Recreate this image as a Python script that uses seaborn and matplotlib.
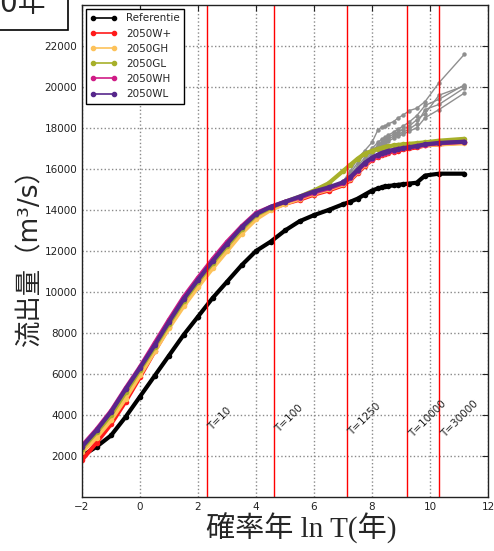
import numpy as np
import pandas as pd
import matplotlib
matplotlib.use('Agg')
import matplotlib.pyplot as plt
import seaborn as sns
from matplotlib.lines import Line2D
from matplotlib.patches import Rectangle

# ln T (plotting positions)
x = [-2.0, -1.5, -1.0, -0.5, 0.0, 0.5, 1.0, 1.5, 2.0, 2.5, 3.0, 3.5, 4.0, 4.5,
     5.0, 5.5, 6.0, 6.5, 7.0, 7.25, 7.5, 7.75, 8.0, 8.2, 8.33, 8.45, 8.56,
     8.74, 8.91, 9.08, 9.29, 9.54, 9.83, 10.31, 11.18]

# 流出量 (m3/s)
ref = [2000, 2450, 3000, 3900, 4900, 5900, 6900, 7900, 8800, 9700, 10500, 11300,
       12000, 12450, 13000, 13450, 13750, 14000, 14280, 14400, 14550, 14750, 14950,
       15050, 15100, 15150, 15170, 15200, 15230, 15260, 15290, 15330, 15680, 15770, 15770]
w_plus = [1800, 2650, 3550, 4650, 5850, 7100, 8300, 9400, 10350, 11300, 12200, 13000,
          13650, 14050, 14300, 14500, 14750, 14950, 15200, 15450, 15800, 16150, 16450,
          16600, 16700, 16750, 16800, 16850, 16900, 16950, 17000, 17050, 17150, 17200, 17300]
gh = [2200, 2900, 3750, 4800, 5950, 7100, 8250, 9300, 10250, 11150, 12000, 12850,
      13550, 14000, 14300, 14550, 14800, 15000, 15250, 15500, 15850, 16200, 16500,
      16650, 16750, 16800, 16850, 16900, 16950, 17000, 17050, 17100, 17150, 17200, 17250]
gl = [2350, 3150, 4000, 5100, 6200, 7300, 8450, 9550, 10500, 11400, 12250, 13050,
      13750, 14100, 14400, 14650, 14950, 15300, 15900, 16200, 16500, 16750, 16880,
      16980, 17030, 17080, 17100, 17150, 17180, 17200, 17230, 17260, 17300, 17380, 17470]
wh = [2500, 3300, 4200, 5300, 6350, 7500, 8650, 9750, 10700, 11600, 12450, 13200,
      13850, 14150, 14400, 14600, 14850, 15050, 15300, 15550, 15900, 16250, 16500,
      16650, 16750, 16800, 16850, 16900, 16950, 17000, 17050, 17100, 17180, 17250, 17320]
wl = [2450, 3250, 4150, 5250, 6300, 7400, 8550, 9650, 10600, 11500, 12350, 13150,
      13800, 14150, 14400, 14650, 14900, 15100, 15350, 15600, 15950, 16300, 16550,
      16700, 16780, 16830, 16880, 16930, 16980, 17020, 17060, 17120, 17200, 17270, 17330]

series_names = ['Referentie', '2050W+', '2050GH', '2050GL', '2050WH', '2050WL']
series_values = [ref, w_plus, gh, gl, wh, wl]
colors = ['black', '#ff1a1a', '#fdc25a', '#a7b02a', '#d01c86', '#57278c']

# grey upper members, from ln T = 7.0
x_tail = x[18:]
gray_runs = [
    [15400, 15900, 16500, 16900, 17300, 17900, 18050, 18100, 18200, 18310, 18500, 18640, 18850, 18960, 19290, 20210, 21590],
    [15400, 15800, 16300, 16700, 17000, 17300, 17450, 17550, 17650, 17800, 17950, 18100, 18300, 18600, 19100, 19400, 20100],
    [15350, 15700, 16150, 16550, 16900, 17150, 17300, 17450, 17550, 17700, 17800, 17950, 18100, 18400, 18700, 19600, 20050],
    [15300, 15650, 16050, 16450, 16800, 17050, 17200, 17350, 17450, 17600, 17700, 17800, 17950, 18200, 18900, 19150, 19950],
    [15300, 15600, 16000, 16350, 16700, 16950, 17100, 17250, 17350, 17500, 17600, 17700, 17850, 18000, 18500, 18900, 19700],
]

return_periods = [10, 100, 1250, 10000, 30000]

df = pd.DataFrame({
    'lnT': x * len(series_names),
    'Q': sum(series_values, []),
    'series': [n for n in series_names for _ in x],
})
df_gray = pd.DataFrame({
    'lnT': x_tail * len(gray_runs),
    'Q': sum(gray_runs, []),
    'run': [i for i in range(len(gray_runs)) for _ in x_tail],
})

sns.set_style('white')
plt.rcParams['font.family'] = ['DejaVu Sans', 'Noto Sans CJK JP']

fig = plt.figure(figsize=(4.94, 5.51), dpi=100)
ax = fig.add_axes([0.166, 0.098, 0.822, 0.893])

sns.lineplot(data=df_gray, x='lnT', y='Q', units='run', estimator=None, sort=False,
             color='#8f8f8f', linewidth=1, marker='o', markersize=3.2,
             markeredgewidth=0, legend=False, ax=ax)
sns.lineplot(data=df, x='lnT', y='Q', hue='series', hue_order=series_names,
             palette=dict(zip(series_names, colors)), estimator=None, sort=False,
             linewidth=3, marker='o', markersize=4, markeredgewidth=0,
             legend=False, ax=ax)

for T in return_periods:
    ax.axvline(np.log(T), color='red', lw=1)
    ax.text(np.log(T), 3800, f'T={T}', rotation=45, ha='left', va='center',
            fontsize=7.5, color='#222222')

ax.set_xlim(-2, 12)
ax.set_ylim(0, 24000)
ax.set_xticks(range(-2, 13, 2))
ax.set_yticks(range(2000, 22001, 2000))
ax.grid(True, ls=':', color='#8a8a8a', lw=1)
ax.tick_params(direction='in', top=True, right=True, length=4, labelsize=7.5,
               colors='#222222')
for s in ax.spines.values():
    s.set_color('#222222')
    s.set_linewidth(1)

handles = [Line2D([0], [0], color=c, lw=1.2, marker='o', markersize=3) for c in colors]
leg = ax.legend(handles, series_names, loc='upper left', fontsize=7.5, fancybox=False,
                edgecolor='black', framealpha=1, numpoints=2, borderaxespad=0.4,
                handlelength=2.6)
leg.get_frame().set_linewidth(1)

ax.set_ylabel('流出量（m³/s）', fontsize=19, family=['DejaVu Sans', 'Noto Sans CJK JP'])
ax.yaxis.set_label_coords(-0.095, 0.5)
ax.set_xlabel('確率年 ln T(年)', fontsize=21, family=['Liberation Serif', 'Noto Sans CJK JP'])
ax.xaxis.set_label_coords(0.54, -0.032)

# cut-off title box at the top left
fig.patches.append(Rectangle((-0.05, 1 - 30 / 551), 0.05 + 68 / 494, 0.2,
                             transform=fig.transFigure, fill=False, ec='black', lw=1.2))
fig.text(45 / 494, 1 - 12 / 551, '2050年', ha='right', va='baseline', fontsize=20,
         family=['DejaVu Sans', 'Noto Sans CJK JP'])

fig.savefig('out.png', dpi=100)
